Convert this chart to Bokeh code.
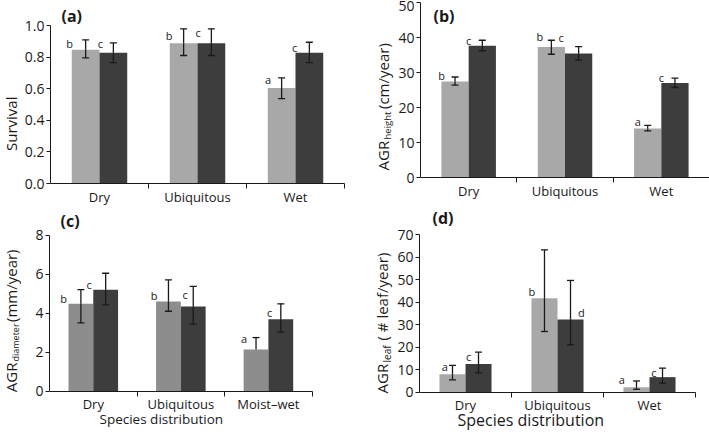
import numpy as np
from bokeh.plotting import figure
from bokeh.models import (Range1d, FixedTicker, PrintfTickFormatter, ColumnDataSource,
                          Whisker, TeeHead)
from bokeh.layouts import row, column
from bokeh.embed import file_html
from bokeh.resources import INLINE
from bokeh.core.properties import value

FONT = "Open Sans"
INK = "#1a1a1a"

# ---------------- data ----------------
cats_a = ["Dry", "Ubiquitous", "Wet"]
cats_b = ["Dry", "Ubiquitous", "Wet"]
cats_c = ["Dry", "Ubiquitous", "Moist\u2013wet"]
cats_d = ["Dry", "Ubiquitous", "Wet"]

# (a) Survival
a_light = [0.846, 0.888, 0.605]
a_light_lo = [0.795, 0.810, 0.537]
a_light_hi = [0.909, 0.979, 0.668]
a_dark = [0.827, 0.888, 0.827]
a_dark_lo = [0.765, 0.810, 0.765]
a_dark_hi = [0.890, 0.979, 0.894]
a_let_light = ["b", "b", "a"]
a_let_dark = ["c", "c", "c"]
a_let_light_y = [0.884, 0.937, 0.656]
a_let_dark_y = [0.888, 0.958, 0.859]
a_let_light_dx = [-0.306, -0.289, -0.279]
a_let_dark_dx = [0.01, 0.007, -0.01]
a_yticks = [0.0, 0.2, 0.4, 0.6, 0.8, 1.0]

# (b) AGR height
b_light = [27.5, 37.4, 14.1]
b_light_lo = [26.5, 35.3, 13.4]
b_light_hi = [28.8, 39.3, 15.0]
b_dark = [37.7, 35.5, 27.1]
b_dark_lo = [36.3, 33.6, 25.8]
b_dark_hi = [39.3, 37.5, 28.5]
b_let_light = ["b", "b", "a"]
b_let_dark = ["c", "c", "c"]
b_let_light_y = [29.2, 40.3, 16.2]
b_let_dark_y = [39.2, 40.1, 28.7]
b_let_light_dx = [-0.28, -0.26, -0.245]
b_let_dark_dx = [0.0, -0.04, 0.0]
b_yticks = [0, 10, 20, 30, 40, 50]

# (c) AGR diameter
c_light = [4.48, 4.60, 2.14]
c_light_lo = [3.50, 4.10, None]
c_light_hi = [5.21, 5.71, 2.75]
c_dark = [5.20, 4.34, 3.69]
c_dark_lo = [4.43, 3.44, 3.03]
c_dark_hi = [6.05, 5.38, 4.48]
c_let_light = ["b", "b", "a"]
c_let_dark = ["c", "c", "c"]
c_let_light_y = [4.74, 4.90, 2.68]
c_let_dark_y = [5.47, 4.96, 4.05]
c_let_light_dx = [-0.34, -0.306, -0.278]
c_let_dark_dx = [-0.046, 0.048, 0.015]
c_yticks = [0, 2, 4, 6, 8]

# (d) AGR leaf
d_light = [8.0, 41.8, 2.2]
d_light_lo = [5.5, 27.0, 1.3]
d_light_hi = [11.9, 63.3, 5.0]
d_dark = [12.5, 32.3, 6.7]
d_dark_lo = [8.6, 21.1, 4.0]
d_dark_hi = [17.8, 49.7, 10.7]
d_let_light = ["a", "b", "a"]
d_let_dark = ["c", "d", "c"]
d_let_light_y = [11.4, 44.8, 5.6]
d_let_dark_y = [15.9, 35.6, 8.6]
d_let_light_dx = [-0.225, -0.28, -0.30]
d_let_dark_dx = [0.035, 0.26, 0.047]
d_yticks = [0, 10, 20, 30, 40, 50, 60, 70]

LIGHT = "#a8a8a8"
LIGHT_C = "#8d8d8d"
DARK = "#3d3d3d"
BAR_W = 0.283
R = np.pi / 2


def add_whiskers(p, xs, vals, lo, hi):
    up = ColumnDataSource(dict(x=list(xs), v=list(vals), hi=list(hi)))
    p.add_layout(Whisker(source=up, base="x", lower="v", upper="hi",
                         line_color=INK, line_width=1.3, level="overlay",
                         upper_head=TeeHead(size=7, line_color=INK, line_width=1.3),
                         lower_head=None))
    keep = [i for i, l in enumerate(lo) if l is not None]
    dn = ColumnDataSource(dict(x=[xs[i] for i in keep], v=[vals[i] for i in keep],
                               lo=[lo[i] for i in keep]))
    p.add_layout(Whisker(source=dn, base="x", lower="lo", upper="v",
                         line_color=INK, line_width=1.3, level="overlay",
                         lower_head=TeeHead(size=7, line_color=INK, line_width=1.3),
                         upper_head=None))


def clean(p):
    p.outline_line_color = None
    p.xgrid.visible = False
    p.ygrid.visible = False
    p.background_fill_color = "white"
    p.border_fill_color = "white"


def panel(cats, light, light_lo, light_hi, dark, dark_lo, dark_hi,
          let_l, let_d, let_ly, let_dy, let_ldx, let_ddx,
          yticks, fmt, light_color, plot_rect, bl, frame_top, frame_bottom, frame_right,
          texts):
    px0, py0, px1, py1 = plot_rect
    ncat = len(cats)
    ymax = yticks[-1]
    fw = frame_right - px0
    fh = frame_bottom - frame_top
    cat_w = (px1 - px0) / ncat
    ypx = (py1 - py0) / ymax
    p = figure(width=bl + fw, height=fh, frame_width=fw, frame_height=fh,
               output_backend="svg", toolbar_location=None,
               x_range=Range1d(-0.5, -0.5 + fw / cat_w),
               y_range=Range1d(-(frame_bottom - py1) / ypx, (py1 - frame_top) / ypx),
               min_border_left=bl, min_border_right=0,
               min_border_top=0, min_border_bottom=0)
    clean(p)

    def to_data(wx, wy):
        return -0.5 + (wx - px0) / cat_w, (py1 - wy) / ypx

    centers = np.arange(ncat, dtype=float)
    xl = centers - BAR_W / 2
    xd = centers + BAR_W / 2
    p.vbar(x=xl, top=light, width=BAR_W, bottom=0, fill_color=light_color, line_color=None)
    p.vbar(x=xd, top=dark, width=BAR_W, bottom=0, fill_color=DARK, line_color=None)
    add_whiskers(p, xl, light, light_lo, light_hi)
    add_whiskers(p, xd, dark, dark_lo, dark_hi)

    p.text(x=list(centers + np.array(let_ldx)), y=let_ly, text=let_l,
           text_font=value(FONT), text_font_size="11px", text_color=INK,
           text_align="center", text_baseline="alphabetic")
    p.text(x=list(centers + np.array(let_ddx)), y=let_dy, text=let_d,
           text_font=value(FONT), text_font_size="11px", text_color=INK,
           text_align="center", text_baseline="alphabetic")

    for wx, wy, text, size, bold, align in texts:
        tx, ty = to_data(wx, wy)
        p.text(x=[tx], y=[ty], text=[text], text_font=value(FONT), text_font_size=size,
               text_font_style="bold" if bold else "normal", text_color=INK,
               text_align=align, text_baseline="middle")

    xa = p.xaxis[0]
    xa.fixed_location = 0
    xa.bounds = (-0.5, ncat - 0.5)
    xa.ticker = FixedTicker(ticks=list(range(ncat)),
                            minor_ticks=[i + 0.5 for i in range(ncat)])
    xa.major_label_overrides = {i: c for i, c in enumerate(cats)}
    xa.major_tick_line_color = None
    xa.major_tick_out = 0
    xa.major_tick_in = 0
    xa.minor_tick_out = 5
    xa.minor_tick_in = 0
    xa.minor_tick_line_color = INK
    xa.major_label_standoff = -1
    xa.major_label_text_font = FONT
    xa.major_label_text_font_size = "13px"
    xa.major_label_text_color = INK
    xa.axis_line_color = INK

    ya = p.yaxis[0]
    ya.bounds = (0, ymax)
    ya.ticker = FixedTicker(ticks=yticks)
    ya.formatter = PrintfTickFormatter(format=fmt)
    ya.major_tick_out = 4
    ya.major_tick_in = 0
    ya.minor_tick_line_color = None
    ya.major_label_standoff = 2
    ya.major_label_text_font = FONT
    ya.major_label_text_font_size = "14px"
    ya.major_label_text_color = INK
    ya.axis_line_color = INK
    ya.major_tick_line_color = INK
    return p


def strip(x0, y0, w, h, pieces):
    """A blank figure holding rotated axis titles; pieces = (wx, wy, text, size, align)."""
    s = figure(width=w, height=h, frame_width=w, frame_height=h,
               output_backend="svg", toolbar_location=None,
               x_range=Range1d(0, w), y_range=Range1d(0, h),
               x_axis_type=None, y_axis_type=None,
               min_border_left=0, min_border_right=0, min_border_top=0, min_border_bottom=0)
    clean(s)
    for wx, wy, text, size, align in pieces:
        s.text(x=[wx - x0], y=[y0 + h - wy], text=[text], text_font=value(FONT),
               text_font_size=size, text_color=INK, angle=R,
               text_align=align, text_baseline="middle")
    return s


ROW1_H = 205
ROW2_B = 435
SW_L = 21   # width of left title strips
SW_R = 24   # width of middle title strips

# ---------------- row 1 ----------------
sa = strip(0, 0, SW_L, ROW1_H, [(10.5, 123.3, "Survival", "15px", "center")])
pa = panel(cats_a, a_light, a_light_lo, a_light_hi, a_dark, a_dark_lo, a_dark_hi,
           a_let_light, a_let_dark, a_let_light_y, a_let_dark_y, a_let_light_dx, a_let_dark_dx,
           a_yticks, "%.1f", LIGHT, (49, 25, 343, 183), 49 - SW_L, 0, ROW1_H, 370,
           [(60, 15.5, "(a)", "16px", True, "left")])
sb = strip(370, 0, SW_R, ROW1_H, [(381.7, 170, "AGR", "15px", "left"),
                                  (386.3, 139, "height", "9.5px", "left"),
                                  (381.7, 108.5, "(cm/year)", "15px", "left")])
pb = panel(cats_b, b_light, b_light_lo, b_light_hi, b_dark, b_dark_lo, b_dark_hi,
           b_let_light, b_let_dark, b_let_light_y, b_let_dark_y, b_let_light_dx, b_let_dark_dx,
           b_yticks, "%d", LIGHT, (419, 2.3, 708, 177.3), 419 - 370 - SW_R, 0, ROW1_H, 708,
           [(432, 15.3, "(b)", "16px", True, "left")])

# ---------------- row 2 ----------------
H2 = ROW2_B - ROW1_H
sc = strip(0, ROW1_H, SW_L, H2, [(10.5, 391.7, "AGR", "15px", "left"),
                                 (14.8, 361, "diameter", "9px", "left"),
                                 (10.5, 321.5, "(mm/year)", "15px", "left")])
pc = panel(cats_c, c_light, c_light_lo, c_light_hi, c_dark, c_dark_lo, c_dark_hi,
           c_let_light, c_let_dark, c_let_light_y, c_let_dark_y, c_let_light_dx, c_let_dark_dx,
           c_yticks, "%d", LIGHT_C, (49, 234.7, 311.7, 390.7), 49 - SW_L, ROW1_H, ROW2_B, 370,
           [(60, 220, "(c)", "16px", True, "left"),
            (160.8, 418.3, "Species distribution", "13.5px", False, "center")])
sd = strip(370, ROW1_H, SW_R, H2, [(381.7, 393, "AGR", "15px", "left"),
                                   (386.0, 362, "leaf", "10px", "left"),
                                   (381.7, 340, "( # leaf/year)", "15px", "left")])
pd = panel(cats_d, d_light, d_light_lo, d_light_hi, d_dark, d_dark_lo, d_dark_hi,
           d_let_light, d_let_dark, d_let_light_y, d_let_dark_y, d_let_light_dx, d_let_dark_dx,
           d_yticks, "%d", LIGHT, (419, 234.3, 695, 391.7), 419 - 370 - SW_R, ROW1_H, ROW2_B, 708,
           [(432, 217.0, "(d)", "16px", True, "left"),
            (530.3, 419.0, "Species distribution", "16px", False, "center")])

layout = column(row(sa, pa, sb, pb), row(sc, pc, sd, pd))
open("out.html", "w").write(file_html(layout, INLINE))
